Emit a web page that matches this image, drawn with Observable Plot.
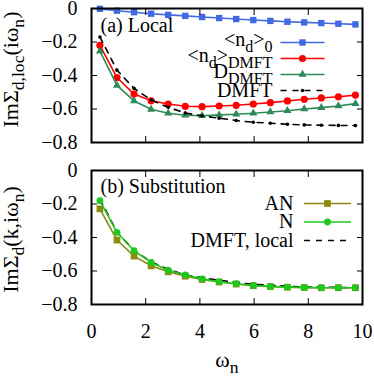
<!DOCTYPE html>
<html><head><meta charset="utf-8">
<script src="https://cdn.jsdelivr.net/npm/d3@7"></script>
<script src="https://cdn.jsdelivr.net/npm/@observablehq/plot@0.6"></script>
<style>body{margin:0;background:#fff;font-family:"Liberation Serif",serif} svg{display:block}</style>
</head><body><div id="chart"></div>
<script>
// Matsubara frequencies
const omega = [0.31, 0.94, 1.57, 2.20, 2.83, 3.46, 4.08, 4.71, 5.34, 5.97, 6.60, 7.23, 7.85, 8.48, 9.11, 9.74];
// panel (a)
const nd0   = [-0.002, -0.013, -0.022, -0.031, -0.038, -0.044, -0.051, -0.057, -0.063, -0.069, -0.074, -0.079, -0.083, -0.087, -0.091, -0.095];
const ndDMFT= [-0.220, -0.412, -0.511, -0.551, -0.570, -0.584, -0.586, -0.582, -0.578, -0.570, -0.562, -0.552, -0.542, -0.534, -0.527, -0.517];
const dDMFT = [-0.254, -0.459, -0.552, -0.602, -0.625, -0.637, -0.640, -0.635, -0.631, -0.625, -0.618, -0.610, -0.600, -0.592, -0.582, -0.568];
const dmft  = [-0.170, -0.368, -0.477, -0.546, -0.590, -0.624, -0.641, -0.655, -0.669, -0.679, -0.685, -0.691, -0.695, -0.697, -0.698, -0.699];
// panel (b)
const sigAN = [-0.229, -0.415, -0.511, -0.569, -0.605, -0.631, -0.651, -0.666, -0.678, -0.688, -0.693, -0.697, -0.699, -0.700, -0.700, -0.700];
const sigN  = [-0.180, -0.369, -0.479, -0.549, -0.595, -0.623, -0.647, -0.664, -0.676, -0.686, -0.692, -0.696, -0.698, -0.700, -0.700, -0.700];
// ticks & labels
const xTicks = [0, 2, 4, 6, 8, 10];
const xInner = [2, 4, 6, 8];
const yTicks = [0, -0.2, -0.4, -0.6, -0.8];
const yInner = [-0.2, -0.4, -0.6];
const labelsA = ["<n_{d}>_{0}", "<n_{d}>_{DMFT}", "D_{DMFT}", "DMFT"];
const labelsB = ["AN", "N", "DMFT, local"];
const titleA = "(a) Local";
const titleB = "(b) Substitution";
const yLabelA = "ImΣ_{d,loc}(iω_{n})";
const yLabelB = "ImΣ_{d}(k,iω_{n})";
const xLabel = "ω_{n}";

const FONT = "Liberation Serif";
const C = {blue: "#4169e1", red: "#ff0000", green: "#2e8b57", black: "#000000", olive: "#8b8b10", lime: "#1ec81e"};
const tidy = ys => ys.map((v, i) => ({w: omega[i], v}));
const lineSym = half => ({draw(ctx) { ctx.moveTo(-half, 0); ctx.lineTo(half, 0); }});
const fmt = d => d === 0 ? "0" : d3.format(".1f")(d);

function series(ys, color, symbol, r, opts = {}) {
  const data = tidy(ys);
  const out = [Plot.line(data, {x: "w", y: "v", stroke: color, strokeWidth: 1.6, strokeDasharray: opts.dash})];
  if (symbol) out.push(Plot.dot(data, {x: "w", y: "v", symbol, r, fill: color, stroke: "none"}));
  return out;
}

function legendRow(label, color, symbol, r, dash, rowDy, textDx, textDyOff, lineDx, half) {
  const m = [
    Plot.text([label], {frameAnchor: "top-right", text: d => d, dx: textDx, dy: rowDy + textDyOff, textAnchor: "end", lineAnchor: "middle", fontFamily: FONT}),
    Plot.dot([0], {frameAnchor: "top-right", dx: lineDx, dy: rowDy, symbol: lineSym(half), r: 5, fill: "none", stroke: color, strokeWidth: 1.6, strokeDasharray: dash})
  ];
  if (symbol) m.push(Plot.dot([0], {frameAnchor: "top-right", dx: lineDx, dy: rowDy, symbol, r, fill: color, stroke: "none"}));
  return m;
}

function axes(showXLabels) {
  return [
    Plot.axisY({anchor: "left", ticks: yTicks, tickSize: 0, tickPadding: 14, tickFormat: fmt, label: null, fontFamily: FONT}),
    Plot.axisY({anchor: "left", ticks: yInner, tickSize: -6, fill: "none", label: null}),
    Plot.axisY({anchor: "right", ticks: yInner, tickSize: -6, fill: "none", label: null}),
    Plot.axisX({anchor: "top", ticks: xInner, tickSize: -6, fill: "none", label: null}),
    Plot.axisX({anchor: "bottom", ticks: xInner, tickSize: -6, fill: "none", label: null}),
    showXLabels ? Plot.axisX({anchor: "bottom", ticks: xTicks, tickSize: 0, tickPadding: 19, tickFormat: d => String(d), label: null, fontFamily: FONT}) : null
  ];
}

const style = {fontFamily: FONT, fontSize: "20px", color: "black", background: "white", overflow: "visible", display: "block"};

const plotA = Plot.plot({
  width: 374, height: 160, marginLeft: 91, marginRight: 12, marginTop: 8, marginBottom: 18,
  style,
  x: {domain: [0, 10], axis: null},
  y: {domain: [-0.8, 0], axis: null},
  marks: [
    ...series(nd0, C.blue, "square", 3.6),
    ...series(ndDMFT, C.red, "circle", 3.6),
    ...series(dDMFT, C.green, "triangle", 3),
    ...series(dmft, C.black, "circle", 1.8, {dash: "6,6"}),
    ...axes(false),
    Plot.frame({strokeWidth: 2}),
    Plot.text([titleA], {frameAnchor: "top-left", text: d => d, dx: 9, dy: 17, textAnchor: "start", lineAnchor: "middle", fontFamily: FONT}),
    Plot.text([yLabelA], {frameAnchor: "left", text: d => d, dx: -81, dy: -6, rotate: -90, textAnchor: "middle", lineAnchor: "middle", fontSize: 22, fontFamily: FONT}),
    ...legendRow(labelsA[0], C.blue, "square", 3.6, null, 34, -90, -3, -60, 22),
    ...legendRow(labelsA[1], C.red, "circle", 3.6, null, 50, -90, -3, -60, 22),
    ...legendRow(labelsA[2], C.green, "triangle", 3, null, 66, -90, -3, -60, 22),
    ...legendRow(labelsA[3], C.black, "circle", 1.8, "6,6", 82, -90, 0, -60, 22)
  ]
});

const plotB = Plot.plot({
  width: 374, height: 217, marginLeft: 91, marginRight: 12, marginTop: 10, marginBottom: 73,
  style,
  x: {domain: [0, 10], axis: null},
  y: {domain: [-0.8, 0], axis: null},
  marks: [
    ...series(sigAN, C.olive, "square", 3.8),
    ...series(dmft, C.black, null, 0, {dash: "6,6"}),
    ...series(sigN, C.lime, "circle", 3.4),
    ...axes(true),
    Plot.frame({strokeWidth: 2}),
    Plot.text([titleB], {frameAnchor: "top-left", text: d => d, dx: 9, dy: 16, textAnchor: "start", lineAnchor: "middle", fontFamily: FONT}),
    Plot.text([yLabelB], {frameAnchor: "left", text: d => d, dx: -81, dy: 2, rotate: -90, textAnchor: "middle", lineAnchor: "middle", fontSize: 22, fontFamily: FONT}),
    Plot.text([xLabel], {frameAnchor: "bottom", text: d => d, dy: 55, textAnchor: "middle", lineAnchor: "middle", fontSize: 22, fontFamily: FONT}),
    ...legendRow(labelsB[0], C.olive, "square", 3.8, null, 33, -69, 0, -35, 23.5),
    ...legendRow(labelsB[1], C.lime, "circle", 3.4, null, 51.5, -69, 0, -35, 23.5),
    ...legendRow(labelsB[2], C.black, null, 0, "6,6", 70, -69, 0, -35, 23.5)
  ]
});

function richText(svg) {
  d3.select(svg).selectAll("text").each(function() {
    this.style.setProperty("font-family", FONT, "important");
    const s = this.textContent;
    if (!s.includes("_{")) return;
    const parts = s.split(/(_\{[^}]*\})/).filter(p => p);
    this.textContent = "";
    let shifted = false;
    for (const p of parts) {
      const sub = p.startsWith("_{");
      const t = document.createElementNS("http://www.w3.org/2000/svg", "tspan");
      t.textContent = sub ? p.slice(2, -1) : p;
      if (sub) { t.style.fontSize = "0.8em"; if (!shifted) t.setAttribute("dy", 6); shifted = true; }
      else if (shifted) { t.setAttribute("dy", -6); shifted = false; }
      this.appendChild(t);
    }
  });
}
richText(plotA); richText(plotB);
const root = document.getElementById("chart");
root.appendChild(plotA);
root.appendChild(plotB);
</script>
</body></html>
